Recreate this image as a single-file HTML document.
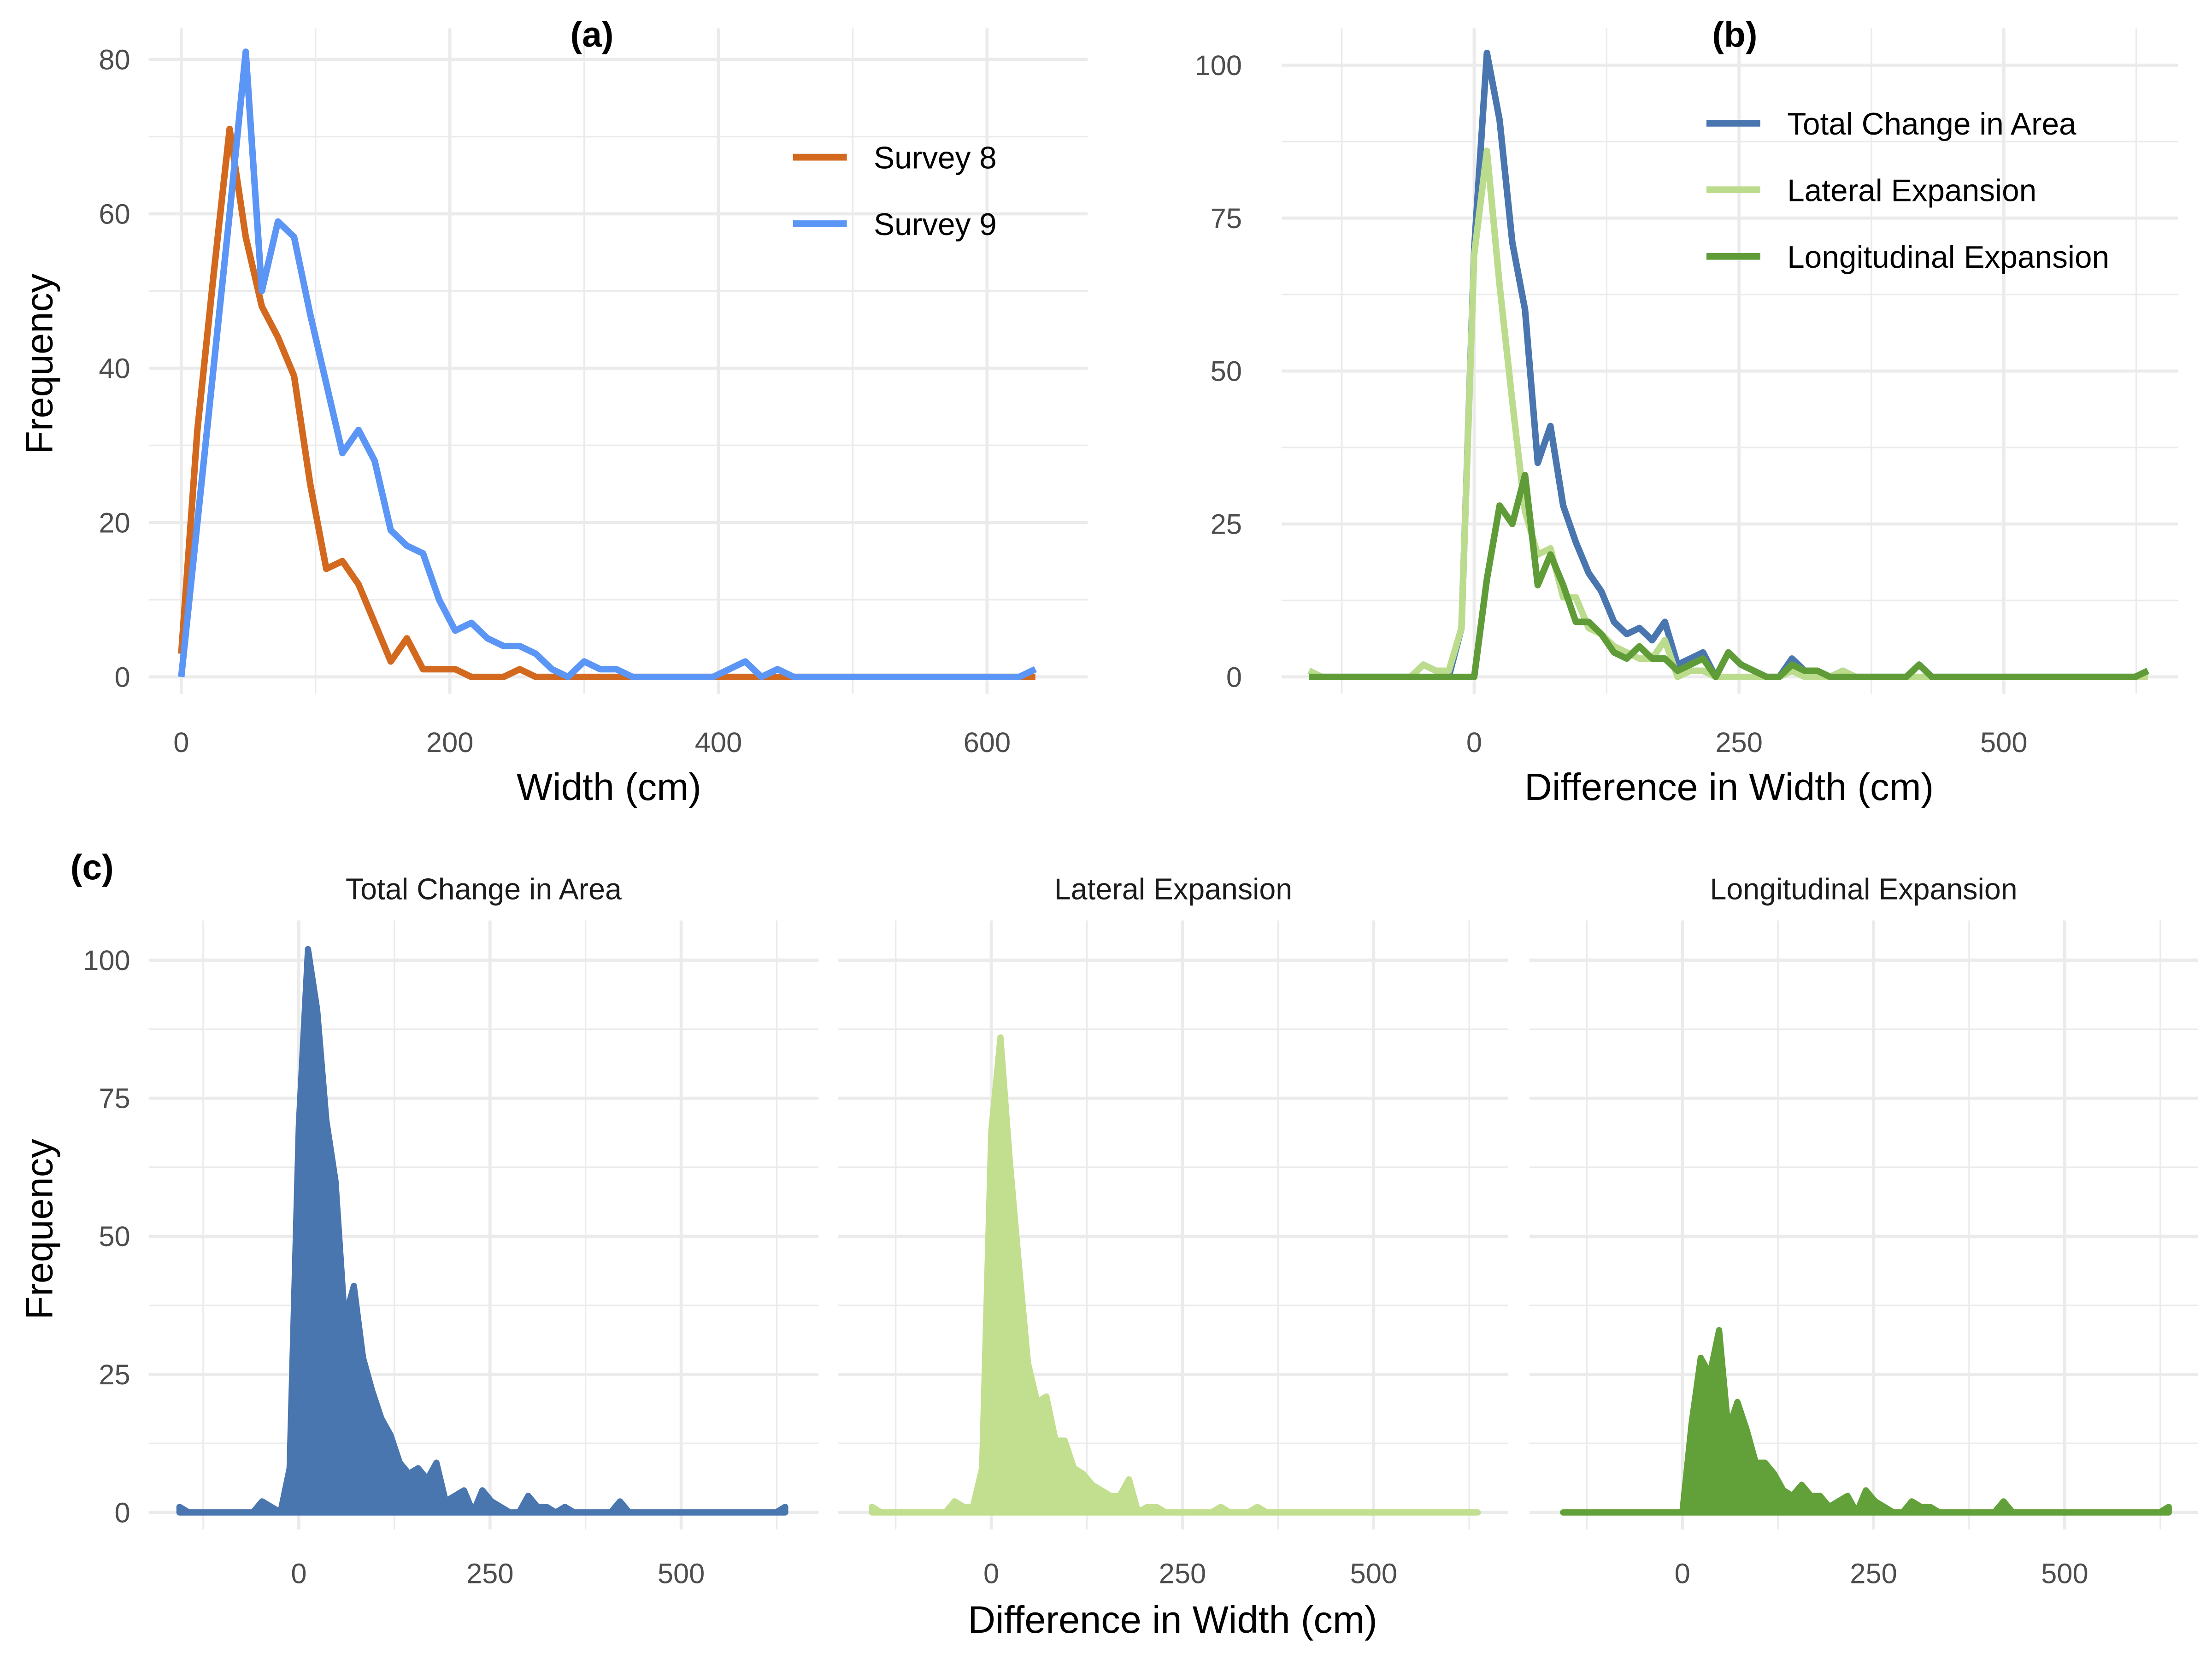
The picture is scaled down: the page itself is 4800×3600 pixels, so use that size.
<!DOCTYPE html>
<html><head><meta charset="utf-8"><style>
html,body{margin:0;padding:0;background:#fff}
svg{display:block}
text{font-family:"Liberation Sans",Arial,sans-serif}
</style></head><body>
<svg id="chart" xmlns="http://www.w3.org/2000/svg" width="4800" height="3600" viewBox="0 0 1562 1171.5">
<rect width="1562" height="1171.5" fill="#fff"/>
</svg>
<script>
const widthBins = [0,12,24,36,48,60,72,84,96,108,120,132,144,156,168,180,192,204,216,228,240,252,264,276,288,300,312,324,336,348,360,372,384,396,408,420,432,444,456,468,480,492,504,516,528,540,552,564,576,588,600,612,624,636];
const survey8 = [3,32,52,71,57,48,44,39,25,14,15,12,7,2,5,1,1,1,0,0,0,1,0,0,0,0,0,0,0,0,0,0,0,0,0,0,0,0,0,0,0,0,0,0,0,0,0,0,0,0,0,0,0,0];
const survey9 = [0,20,40,60,81,50,59,57,47,38,29,32,28,19,17,16,10,6,7,5,4,4,3,1,0,2,1,1,0,0,0,0,0,0,1,2,0,1,0,0,0,0,0,0,0,0,0,0,0,0,0,0,0,1];
const diffBins = [];
for (let v=-156; v<=636; v+=12) diffBins.push(v);
const totalChange = [1,0,0,0,0,0,0,0,0,2,1,0,8,70,102,91,71,60,35,41,28,22,17,14,9,7,8,6,9,2,3,4,0,4,2,1,0,0,3,1,1,0,1,0,0,0,0,0,2,0,0,0,0,0,0,0,0,0,0,0,0,0,0,0,0,0,1];
const lateral = [1,0,0,0,0,0,0,0,0,2,1,1,8,69,86,64,45,27,20,21,13,13,8,7,5,4,3,3,6,0,1,1,0,0,0,0,0,0,1,0,0,0,1,0,0,0,0,0,0,0,0,0,0,0,0,0,0,0,0,0,0,0,0,0,0,0,0];
const longitudinal = [0,0,0,0,0,0,0,0,0,0,0,0,0,0,16,28,25,33,15,20,15,9,9,7,4,3,5,3,3,1,2,3,0,4,2,1,0,0,2,1,1,0,0,0,0,0,0,0,2,0,0,0,0,0,0,0,0,0,0,0,0,0,0,0,0,0,1];
const xTicksA = [0,200,400,600];
const yTicksA = [0,20,40,60,80];
const xTicksB = [0,250,500];
const yTicksB = [0,25,50,75,100];

const svg = document.getElementById('chart');
const NS = 'http://www.w3.org/2000/svg';
function mk(tag, attrs, parent){ const e=document.createElementNS(NS,tag); for(const k in attrs) e.setAttribute(k,attrs[k]); (parent||svg).appendChild(e); return e; }
function txt(s, attrs, parent){ const e=mk('text',attrs,parent); e.textContent=s; return e; }
function lin(d0,d1,r0,r1){ return v => r0 + (v-d0)*(r1-r0)/(d1-d0); }

function panel(name, px0, px1, py0, py1, sx, sy, xMaj, xMin, yMaj, yMin, yLabels, xLabels, labelX, labelY){
  const g = mk('g',{});
  
  
  xMin.forEach(v=>mk('line',{x1:sx(v),x2:sx(v),y1:py0,y2:py1,stroke:'#ebebeb','stroke-width':1.1},g));
  yMin.forEach(v=>mk('line',{x1:px0,x2:px1,y1:sy(v),y2:sy(v),stroke:'#ebebeb','stroke-width':1.1},g));
  xMaj.forEach(v=>mk('line',{x1:sx(v),x2:sx(v),y1:py0,y2:py1,stroke:'#ebebeb','stroke-width':2.2},g));
  yMaj.forEach(v=>mk('line',{x1:px0,x2:px1,y1:sy(v),y2:sy(v),stroke:'#ebebeb','stroke-width':2.2},g));
  if (yLabels) yMaj.forEach(v=>{ const t=txt(String(v),{x:labelX,y:sy(v)+7,'font-size':20,fill:'#4d4d4d','text-anchor':'end'},g);
      });
  if (xLabels) xMaj.forEach(v=>{ const t=txt(String(v),{x:sx(v),y:labelY,'font-size':20,fill:'#4d4d4d','text-anchor':'middle'},g);
      });
  return g;
}
function line(g, xs, ys, sx, sy, color, name){
  const p = mk('polyline',{points:xs.map((x,i)=>sx(x)+','+sy(ys[i])).join(' '),fill:'none',stroke:color,'stroke-width':4.6,'stroke-linejoin':'round'},g);
  
  
}
function area(g, xs, ys, sx, sy, color, name){
  const pts = xs.map((x,i)=>sx(x)+','+sy(ys[i]));
  const d = 'M'+sx(xs[0])+','+sy(0)+' L'+pts.join(' L')+' L'+sx(xs[xs.length-1])+','+sy(0)+' Z';
  const p = mk('path',{d:d,fill:color,stroke:color,'stroke-width':4.4,'stroke-linejoin':'round'},g);
  
  
}

// Panel (a)
const sxA = lin(0,600,128,697), syA = lin(0,80,478,42);
const gA = panel('panel-a', 105, 768, 20, 490, sxA, syA, xTicksA, [100,300,500], yTicksA, [10,30,50,70], true, true, 92, 531);
line(gA, widthBins, survey8, sxA, syA, '#d2691e', 'survey-8-line');
line(gA, widthBins, survey9, sxA, syA, '#5b95f5', 'survey-9-line');
[['Survey 8','#d2691e',111],['Survey 9','#5b95f5',158]].forEach(([l,c,y])=>{
  const lg = mk('g',{});
  
  
  mk('line',{x1:560,x2:598,y1:y,y2:y,stroke:c,'stroke-width':4.8},lg);
  txt(l,{x:617,y:y+8,'font-size':22,fill:'#000'},lg);
});

// Panel (b)
const sxB = lin(0,500,1041,1415), syB = lin(0,100,478,46);
const gB = panel('panel-b', 905, 1538, 20, 490, sxB, syB, xTicksB, [-125,125,375,625], yTicksB, [12.5,37.5,62.5,87.5], true, true, 877, 531);
line(gB, diffBins, totalChange, sxB, syB, '#4a76b0', 'total-change-line');
line(gB, diffBins, lateral, sxB, syB, '#bcdc8d', 'lateral-expansion-line');
line(gB, diffBins, longitudinal, sxB, syB, '#5f9c38', 'longitudinal-expansion-line');
[['Total Change in Area','#4a76b0',87],['Lateral Expansion','#bcdc8d',134],['Longitudinal Expansion','#5f9c38',181]].forEach(([l,c,y])=>{
  const lg = mk('g',{});
  
  
  mk('line',{x1:1205,x2:1243,y1:y,y2:y,stroke:c,'stroke-width':4.8},lg);
  txt(l,{x:1262,y:y+8,'font-size':22,fill:'#000'},lg);
});

// Panel (c) facets
const syC = lin(0,100,1068,678);
const facets = [
  ['Total Change in Area', totalChange, '#4a76b0', 211, 105, 578, 'facet-total-change'],
  ['Lateral Expansion', lateral, '#c1df8e', 700, 592, 1065, 'facet-lateral-expansion'],
  ['Longitudinal Expansion', longitudinal, '#62a03a', 1188, 1080, 1552, 'facet-longitudinal-expansion']
];
facets.forEach(([title, ys, col, x0, px0, px1, nm], i)=>{
  const sx = lin(0,500,x0,x0+270);
  const g = panel(nm, px0, px1, 650, 1080, sx, syC, xTicksB, [-125,125,375,625], yTicksB, [12.5,37.5,62.5,87.5], i===0, true, 92, 1118);
  area(g, diffBins, ys, sx, syC, col, 'area-'+nm);
  const t = txt(title,{x:(px0+px1)/2,y:635,'font-size':21,fill:'#1a1a1a','text-anchor':'middle'},g);
  
  
});

function label(s, attrs, name){ const t=txt(s,attrs);   }
label('Frequency',{x:0,y:0,'font-size':27,fill:'#000','text-anchor':'middle',transform:'translate(37,257) rotate(-90)'},'y-axis-title-a');
label('Frequency',{x:0,y:0,'font-size':27,fill:'#000','text-anchor':'middle',transform:'translate(37,868) rotate(-90)'},'y-axis-title-c');
label('Width (cm)',{x:430,y:565,'font-size':27,fill:'#000','text-anchor':'middle'},'x-axis-title-a');
label('Difference in Width (cm)',{x:1221,y:565,'font-size':27,fill:'#000','text-anchor':'middle'},'x-axis-title-b');
label('Difference in Width (cm)',{x:828,y:1153,'font-size':27,fill:'#000','text-anchor':'middle'},'x-axis-title-c');
label('(a)',{x:418,y:33,'font-size':25,'font-weight':'bold',fill:'#000','text-anchor':'middle'},'panel-tag-a');
label('(b)',{x:1225,y:33,'font-size':25,'font-weight':'bold',fill:'#000','text-anchor':'middle'},'panel-tag-b');
label('(c)',{x:65,y:621,'font-size':25,'font-weight':'bold',fill:'#000','text-anchor':'middle'},'panel-tag-c');
</script>
</body></html>
